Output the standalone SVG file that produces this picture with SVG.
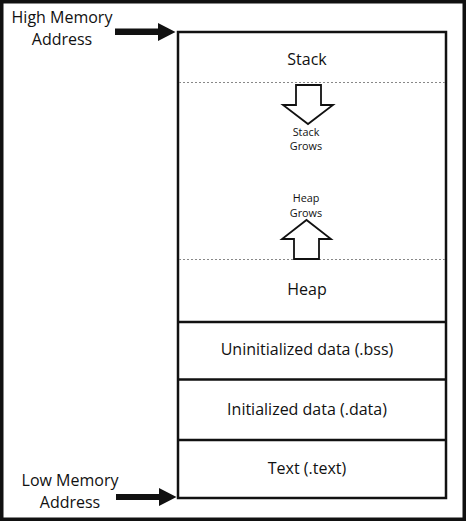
<svg xmlns="http://www.w3.org/2000/svg" width="466" height="521" viewBox="0 0 466 521">
<style>
text{font-family:"Open Sans","Liberation Sans",sans-serif;fill:#111;text-anchor:middle}
.lbl{font-size:16px}
.side{font-size:16px}
.sm{font-size:10.8px}
.seg{fill:none;stroke:#111;stroke-width:2.5}
.dash{stroke:#888;stroke-width:1;stroke-dasharray:2 2;fill:none}
.blk{fill:#111}
.hollow{fill:#fff;stroke:#111;stroke-width:1.8;stroke-linejoin:miter}
</style>
<rect x="1.75" y="1.75" width="462.5" height="517.5" fill="#fff" stroke="#111" stroke-width="3.5"/>
<g id="memory">
<rect class="seg" x="178" y="32" width="268" height="466"/>
</g>
<g id="stack">
<text class="lbl" x="307" y="65">Stack</text>
</g>
<g id="free-space">
<line class="dash" x1="179" y1="82.5" x2="445" y2="82.5"/>
<line class="dash" x1="179" y1="259.5" x2="445" y2="259.5"/>
<polygon class="hollow" points="296,85 321,85 321,105 333,105 308,124 283,105 296,105"/>
<text class="sm" x="306" y="136">Stack</text>
<text class="sm" x="306" y="150">Grows</text>
<text class="sm" x="306" y="202">Heap</text>
<text class="sm" x="306" y="217">Grows</text>
<polygon class="hollow" points="294,259 319,259 319,239 331,239 306.5,220 282,239 294,239"/>
</g>
<g id="heap">
<text class="lbl" x="307" y="295">Heap</text>
</g>
<g id="bss">
<line class="seg" x1="178" y1="322" x2="446" y2="322"/>
<text class="lbl" x="307" y="355">Uninitialized data (.bss)</text>
</g>
<g id="data">
<line class="seg" x1="178" y1="379.5" x2="446" y2="379.5"/>
<text class="lbl" x="307" y="415">Initialized data (.data)</text>
</g>
<g id="text-seg">
<line class="seg" x1="178" y1="440" x2="446" y2="440"/>
<text class="lbl" x="307" y="474">Text (.text)</text>
</g>
<g id="high-label">
<text class="side" x="62" y="23">High Memory</text>
<text class="side" x="62" y="45">Address</text>
</g>
<g id="low-label">
<text class="side" x="70" y="486">Low Memory</text>
<text class="side" x="70" y="508">Address</text>
</g>
<g id="connectors">
<polygon class="blk" points="115,28.5 158,28.5 158,23 175.5,32 158,41 158,35 115,35"/>
<polygon class="blk" points="116,494 159,494 159,488 176.5,497 159,506 159,500 116,500"/>
</g>
</svg>
